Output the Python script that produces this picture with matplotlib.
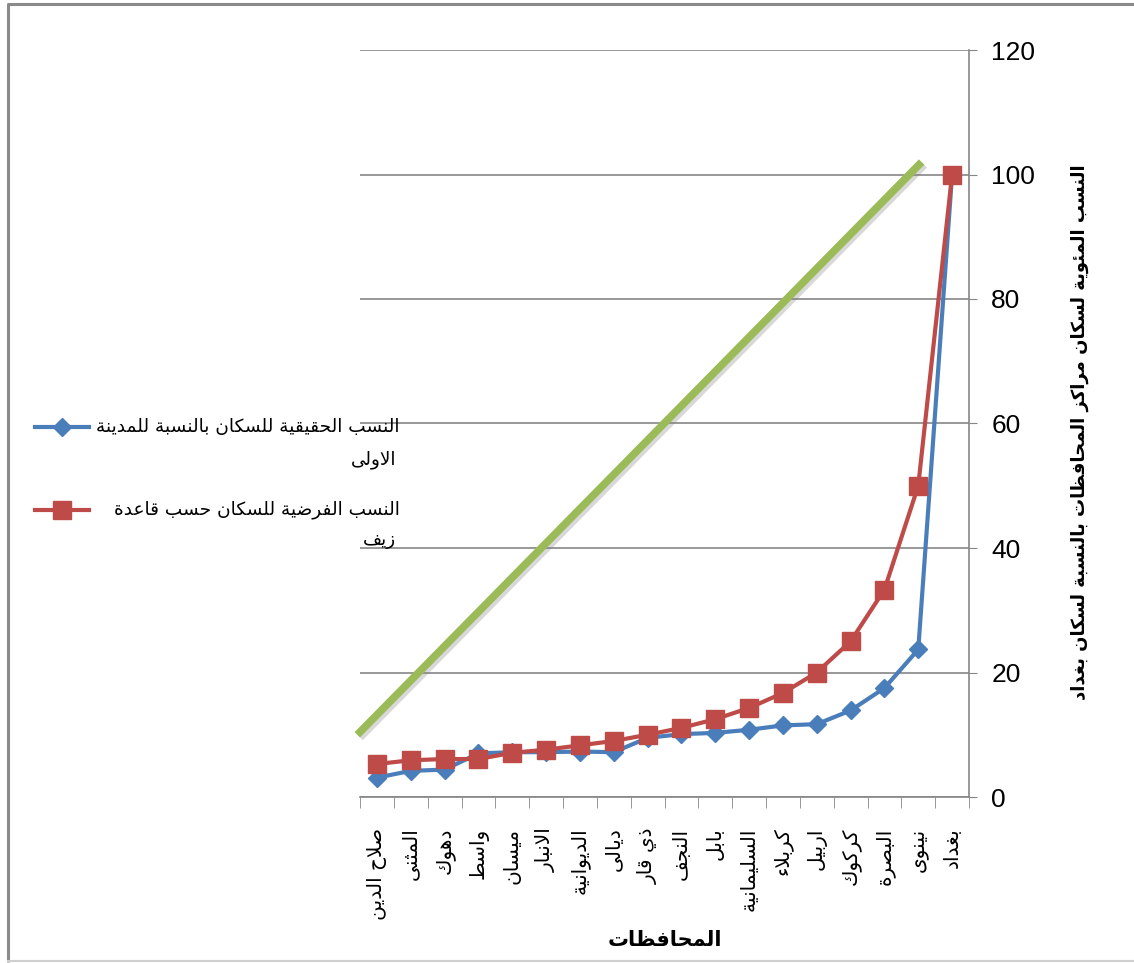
import numpy as np
import matplotlib
matplotlib.use("Agg")
import matplotlib.pyplot as plt
import matplotlib.patheffects as pe

# Data
provinces = ['صلاح الدين', 'المثنى', 'دهوك', 'واسط', 'ميسان', 'الانبار', 'الديوانية',
             'ديالى', 'ذي قار', 'النجف', 'بابل', 'السليمانية', 'كربلاء', 'اربيل',
             'كركوك', 'البصرة', 'نينوى', 'بغداد']
actual_pct = [3.1, 4.2, 4.4, 7.0, 7.2, 7.2, 7.3, 7.2, 9.5, 10.1, 10.3, 10.8, 11.5, 11.7,
              13.9, 17.5, 23.7, 100.0]
zipf_pct = [5.3, 5.9, 6.1, 6.1, 7.1, 7.6, 8.3, 9.0, 10.0, 11.1, 12.5, 14.3, 16.7, 20.0,
            25.0, 33.3, 50.0, 100.0]
# hand-drawn straight line in the original (start / end)
green_x = [-0.58, 16.1]
green_y = [10.0, 102.0]
y_ticks = [0, 20, 40, 60, 80, 100, 120]

legend_actual = ['النسب الحقيقية للسكان بالنسبة للمدينة', 'الاولى']
legend_zipf = ['النسب الفرضية للسكان حسب قاعدة', 'زيف']
x_title = 'المحافظات'
y_title = 'النسب المئوية لسكان مراكز المحافظات بالنسبة لسكان بغداد'

BLUE = '#4A7EBB'
RED = '#BE4B48'
GREEN = '#9BBB59'
GRAY = '#868686'

# --- minimal arabic shaping (matplotlib has no bidi / joining) ---
DUAL = {'ئ': 0xFE89, 'ب': 0xFE8F, 'ت': 0xFE95, 'ث': 0xFE99, 'ج': 0xFE9D, 'ح': 0xFEA1,
        'خ': 0xFEA5, 'س': 0xFEB1, 'ش': 0xFEB5, 'ص': 0xFEB9, 'ض': 0xFEBD, 'ط': 0xFEC1,
        'ظ': 0xFEC5, 'ع': 0xFEC9, 'غ': 0xFECD, 'ف': 0xFED1, 'ق': 0xFED5, 'ك': 0xFED9,
        'ل': 0xFEDD, 'م': 0xFEE1, 'ن': 0xFEE5, 'ه': 0xFEE9, 'ي': 0xFEF1}
RIGHT = {'آ': 0xFE81, 'أ': 0xFE83, 'ؤ': 0xFE85, 'إ': 0xFE87, 'ا': 0xFE8D, 'ة': 0xFE93,
         'د': 0xFEA9, 'ذ': 0xFEAB, 'ر': 0xFEAD, 'ز': 0xFEAF, 'و': 0xFEED, 'ى': 0xFEEF}
LAM_ALEF = {'آ': 0xFEF5, 'أ': 0xFEF7, 'إ': 0xFEF9, 'ا': 0xFEFB}


def shape(text):
    out = []
    i = 0
    n = len(text)
    while i < n:
        c = text[i]
        prev = text[i - 1] if i > 0 else ''
        jp = prev in DUAL
        if c == 'ل' and i + 1 < n and text[i + 1] in LAM_ALEF:
            out.append(chr(LAM_ALEF[text[i + 1]] + (1 if jp else 0)))
            i += 2
            continue
        nxt = text[i + 1] if i + 1 < n else ''
        jn = nxt in DUAL or nxt in RIGHT
        if c in DUAL:
            off = 3 if (jp and jn) else 1 if jp else 2 if jn else 0
            out.append(chr(DUAL[c] + off))
        elif c in RIGHT:
            out.append(chr(RIGHT[c] + (1 if jp else 0)))
        elif c == 'ء':
            out.append('\uFE80')
        else:
            out.append(c)
        i += 1
    return ''.join(reversed(out))


AR = ['DejaVu Sans']
W, H = 1134, 963
fig = plt.figure(figsize=(W / 100, H / 100), dpi=100)
ax = fig.add_axes([360 / W, 166 / H, 609 / W, 747 / H])

x = np.arange(len(provinces))
ax.plot(green_x, green_y, color=GREEN, lw=5.5, solid_capstyle='butt', clip_on=False, zorder=2,
        path_effects=[pe.SimpleLineShadow(offset=(2, -2), alpha=0.3, shadow_color='gray'),
                      pe.Normal()])
ax.plot(x, actual_pct, color=BLUE, lw=3, marker='D', ms=9, zorder=3, clip_on=False)
ax.plot(x, zipf_pct, color=RED, lw=3, marker='s', ms=13, zorder=4, clip_on=False)

ax.set_xlim(-0.5, len(provinces) - 0.5)
ax.set_ylim(0, 120)
ax.set_yticks(y_ticks)
ax.yaxis.tick_right()
ax.grid(axis='y', color=GRAY, lw=1.2)
ax.set_axisbelow(True)
for s in ['left', 'top']:
    ax.spines[s].set_visible(False)
for s in ['right', 'bottom']:
    ax.spines[s].set_color(GRAY)
    ax.spines[s].set_linewidth(1.2)

ax.tick_params(axis='y', direction='out', length=6, color=GRAY, pad=10, labelsize=19)
for lab in ax.get_yticklabels():
    lab.set_family('Liberation Sans')

ax.set_xticks(x)
ax.set_xticklabels([shape(p) for p in provinces], rotation=90, va='top', ha='center',
                   fontsize=14.5, family=AR)
ax.set_xticks(np.arange(-0.5, len(provinces), 1), minor=True)
ax.tick_params(axis='x', which='major', length=0, pad=22)
ax.tick_params(axis='x', which='minor', direction='out', length=8, color=GRAY)

fig.text(1080 / W, 1 - 432 / H, shape(y_title), rotation=90, ha='center', va='center',
         fontsize=13, fontweight='bold', family=AR)
fig.text(665 / W, 1 - 940 / H, shape(x_title), ha='center', va='center',
         fontsize=15, fontweight='bold', family=AR)

# overlay in pixel coordinates: frame and legend
ov = fig.add_axes([0, 0, 1, 1], zorder=5)
ov.set_xlim(0, W)
ov.set_ylim(H, 0)
ov.axis('off')
ov.plot([8, 8, W], [962, 4, 4], color='#8a8a8a', lw=2.2, solid_capstyle='butt')
ov.plot([8, W], [961, 961], color='#cfcfcf', lw=1.5)

ov.plot([35, 62, 89], [427, 427, 427], color=BLUE, lw=3, marker='D', ms=9, markevery=[1])
ov.text(400, 427, shape(legend_actual[0]), ha='right', va='center', fontsize=13.3, family=AR)
ov.text(396, 460, shape(legend_actual[1]), ha='right', va='center', fontsize=13.3, family=AR)
ov.plot([35, 62, 89], [510, 510, 510], color=RED, lw=3, marker='s', ms=13, markevery=[1])
ov.text(400, 510, shape(legend_zipf[0]), ha='right', va='center', fontsize=13.3, family=AR)
ov.text(396, 540, shape(legend_zipf[1]), ha='right', va='center', fontsize=13.3, family=AR)

fig.savefig('out.png', dpi=100)
